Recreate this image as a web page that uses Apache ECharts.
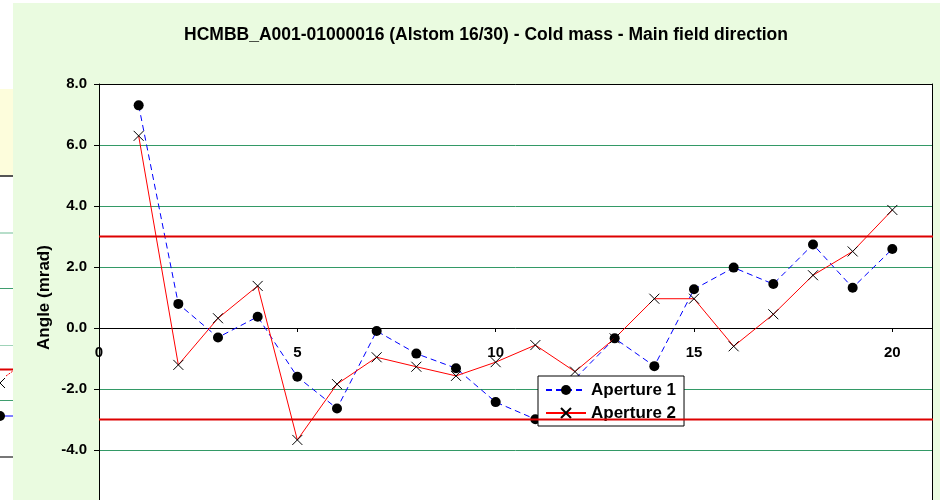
<!DOCTYPE html>
<html>
<head>
<meta charset="utf-8">
<script src="https://cdn.jsdelivr.net/npm/echarts@6/dist/echarts.min.js"></script>
<style>
  html, body { margin: 0; padding: 0; background: #ffffff; overflow: hidden; width: 945px; height: 500px; }
  #sheet { position: absolute; left: 13px; top: 3px; width: 927px; height: 600px; background: #eafbe0; }
  #chart { position: absolute; left: 0; top: 0; width: 945px; height: 540px; }
</style>
</head>
<body>
<div id="sheet"></div>
<div id="chart"></div>
<script>
// Position along the cold mass (measurement index)
const positions = [1, 2, 3, 4, 5, 6, 7, 8, 9, 10, 11, 12, 13, 14, 15, 16, 17, 18, 19, 20];

// Main field direction angle per aperture, mrad (no reading for aperture 1 at position 12)
const aperture1 = [7.30, 0.79, -0.31, 0.37, -1.60, -2.64, -0.10, -0.84, -1.32, -2.43,
                   -2.99, null, -0.34, -1.25, 1.27, 1.98, 1.44, 2.74, 1.32, 2.59];
const aperture2 = [6.30, -1.21, 0.32, 1.38, -3.67, -1.84, -0.96, -1.27, -1.57, -1.12,
                   -0.56, -1.43, -0.34, 0.96, 0.96, -0.60, 0.45, 1.73, 2.51, 3.87];

// Tolerance band, mrad
const limits = [3, -3];
const limitExtent = [0, 21.15];

// Axis ranges
const xRange = [0, 21], xStep = 5;
const yRange = [-6, 8], yStep = 2;

const seriesNames = ['Aperture 1', 'Aperture 2'];
const titleText = 'HCMBB_A001-01000016 (Alstom 16/30) - Cold mass - Main field direction';
const yAxisName = 'Angle (mrad)';

const pairs = vals => positions.map((p, i) => [p, vals[i]]);
const FONT = '"Liberation Sans", Arial, sans-serif';
const GRID = { left: 99, top: 84, right: 13, bottom: 29 };

const chart = echarts.init(document.getElementById('chart'), null, { renderer: 'canvas' });

const limitSeries = limits.map(v => ({
  name: 'limit ' + v,
  type: 'line',
  data: limitExtent.map(x => [x, v]),
  symbol: 'none',
  clip: false,
  silent: true,
  z: 6,
  lineStyle: { color: '#dd0000', width: 2 },
  emphasis: { disabled: true }
}));

const tickFont = { fontFamily: FONT, fontWeight: 'bold', fontSize: 15, color: '#000' };

const option = {
  animation: false,
  backgroundColor: 'transparent',
  title: {
    text: titleText,
    left: 481,
    top: 21,
    textAlign: 'center',
    textStyle: { fontFamily: FONT, fontWeight: 'bold', fontSize: 17.5, color: '#000' }
  },
  grid: Object.assign({
    containLabel: false,
    outerBoundsMode: 'none',
    show: true,
    backgroundColor: '#ffffff',
    borderWidth: 0
  }, GRID),
  legend: {
    data: seriesNames,
    orient: 'vertical',
    left: 538,
    top: 376,
    padding: [4, 8, 3, 7],
    itemGap: 3,
    itemWidth: 40,
    itemHeight: 12.5,
    backgroundColor: '#ffffff',
    borderColor: '#000000',
    borderWidth: 1,
    borderRadius: 0,
    textStyle: { fontFamily: FONT, fontWeight: 'bold', fontSize: 17, color: '#000', lineHeight: 20 }
  },
  xAxis: [
    {
      type: 'value',
      min: xRange[0], max: xRange[1], interval: xStep,
      position: 'bottom',
      offset: 0,
      axisLine: { onZero: false, lineStyle: { color: '#000', width: 1 } },
      axisTick: { show: true, length: 4, lineStyle: { color: '#000' } },
      axisLabel: Object.assign({ show: true, margin: 17, showMaxLabel: false, hideOverlap: false }, tickFont),
      splitLine: { show: false }
    },
    {
      // top frame of the plot area
      type: 'value',
      min: xRange[0], max: xRange[1],
      position: 'top',
      axisLine: { onZero: false, lineStyle: { color: '#000', width: 1 } },
      axisTick: { show: false },
      axisLabel: { show: false },
      splitLine: { show: false }
    }
  ],
  yAxis: [
    {
      type: 'value',
      min: yRange[0], max: yRange[1], interval: yStep,
      name: yAxisName,
      nameLocation: 'middle',
      nameRotate: 90,
      nameGap: 46,
      nameMoveOverlap: false,
      nameTextStyle: { fontFamily: FONT, fontWeight: 'bold', fontSize: 17, color: '#000' },
      axisLine: { show: true, onZero: false, lineStyle: { color: '#000', width: 1 } },
      axisTick: { show: true, length: 5, lineStyle: { color: '#000' } },
      axisLabel: Object.assign({ margin: 12, formatter: v => v.toFixed(1) }, tickFont),
      splitLine: { show: true, lineStyle: { color: ['#339966'], width: 1, opacity: 1 } }
    },
    {
      // right frame of the plot area
      type: 'value',
      min: yRange[0], max: yRange[1], interval: yStep,
      position: 'right',
      axisLine: { show: true, onZero: false, lineStyle: { color: '#000', width: 1 } },
      axisTick: { show: false },
      axisLabel: { show: false },
      splitLine: { show: false },
      splitArea: { show: false }
    }
  ],
  series: [
    {
      name: seriesNames[0],
      type: 'line',
      data: pairs(aperture1),
      connectNulls: true,
      symbol: 'circle',
      symbolSize: 10,
      z: 2,
      itemStyle: { color: '#000000' },
      lineStyle: { color: '#0000ff', width: 1, type: [6, 4] },
      emphasis: { disabled: true }
    },
    {
      name: seriesNames[1],
      type: 'line',
      data: pairs(aperture2),
      symbol: 'path://M0,0L10,10M10,0L0,10',
      symbolSize: 10,
      z: 3,
      itemStyle: { color: '#000000', borderColor: '#000000', borderWidth: 1 },
      lineStyle: { color: '#ff0000', width: 1 },
      emphasis: { disabled: true }
    },
    ...limitSeries
  ],
  graphic: [
    // Edge of the neighbouring sheet chart on the left
    { type: 'rect', shape: { x: 0, y: 89, width: 13, height: 87 }, style: { fill: '#fdfddc' }, silent: true },
    { type: 'line', shape: { x1: 0, y1: 176, x2: 13, y2: 176 }, style: { stroke: '#555555', lineWidth: 2 }, silent: true },
    { type: 'line', shape: { x1: 0, y1: 233, x2: 13, y2: 233 }, style: { stroke: '#9fd3b8', lineWidth: 1.5 }, silent: true },
    { type: 'line', shape: { x1: 0, y1: 288.5, x2: 13, y2: 288.5 }, style: { stroke: '#3f9d6e', lineWidth: 1 }, silent: true },
    { type: 'line', shape: { x1: 0, y1: 345.5, x2: 13, y2: 345.5 }, style: { stroke: '#9fd3b8', lineWidth: 1 }, silent: true },
    { type: 'line', shape: { x1: 0, y1: 400.5, x2: 13, y2: 400.5 }, style: { stroke: '#3f9d6e', lineWidth: 1 }, silent: true },
    { type: 'line', shape: { x1: 0, y1: 369.5, x2: 13, y2: 369.5 }, style: { stroke: '#dd0000', lineWidth: 2 }, silent: true },
    { type: 'line', shape: { x1: 6, y1: 376, x2: 13, y2: 371 }, style: { stroke: '#ff0000', lineWidth: 1, lineDash: [2, 1] }, silent: true },
    { type: 'polyline', shape: { points: [[-5, 378], [5, 388]] }, style: { stroke: '#000', lineWidth: 1, fill: null }, silent: true },
    { type: 'polyline', shape: { points: [[5, 378], [-5, 388]] }, style: { stroke: '#000', lineWidth: 1, fill: null }, silent: true },
    { type: 'line', shape: { x1: 4, y1: 416, x2: 13, y2: 416 }, style: { stroke: '#0000ff', lineWidth: 1 }, silent: true },
    { type: 'circle', shape: { cx: 0, cy: 416, r: 5 }, style: { fill: '#000' }, silent: true },
    { type: 'line', shape: { x1: 0, y1: 457, x2: 13, y2: 457 }, style: { stroke: '#777777', lineWidth: 2 }, silent: true }
  ]
};

chart.setOption(option);

// Lift the category axis onto the zero line of the angle scale
const zeroY = chart.convertToPixel({ yAxisIndex: 0 }, 0);
const gridBottomY = chart.getHeight() - GRID.bottom;
chart.setOption({ xAxis: [{ offset: -(gridBottomY - zeroY) }, {}] });
</script>
</body>
</html>
